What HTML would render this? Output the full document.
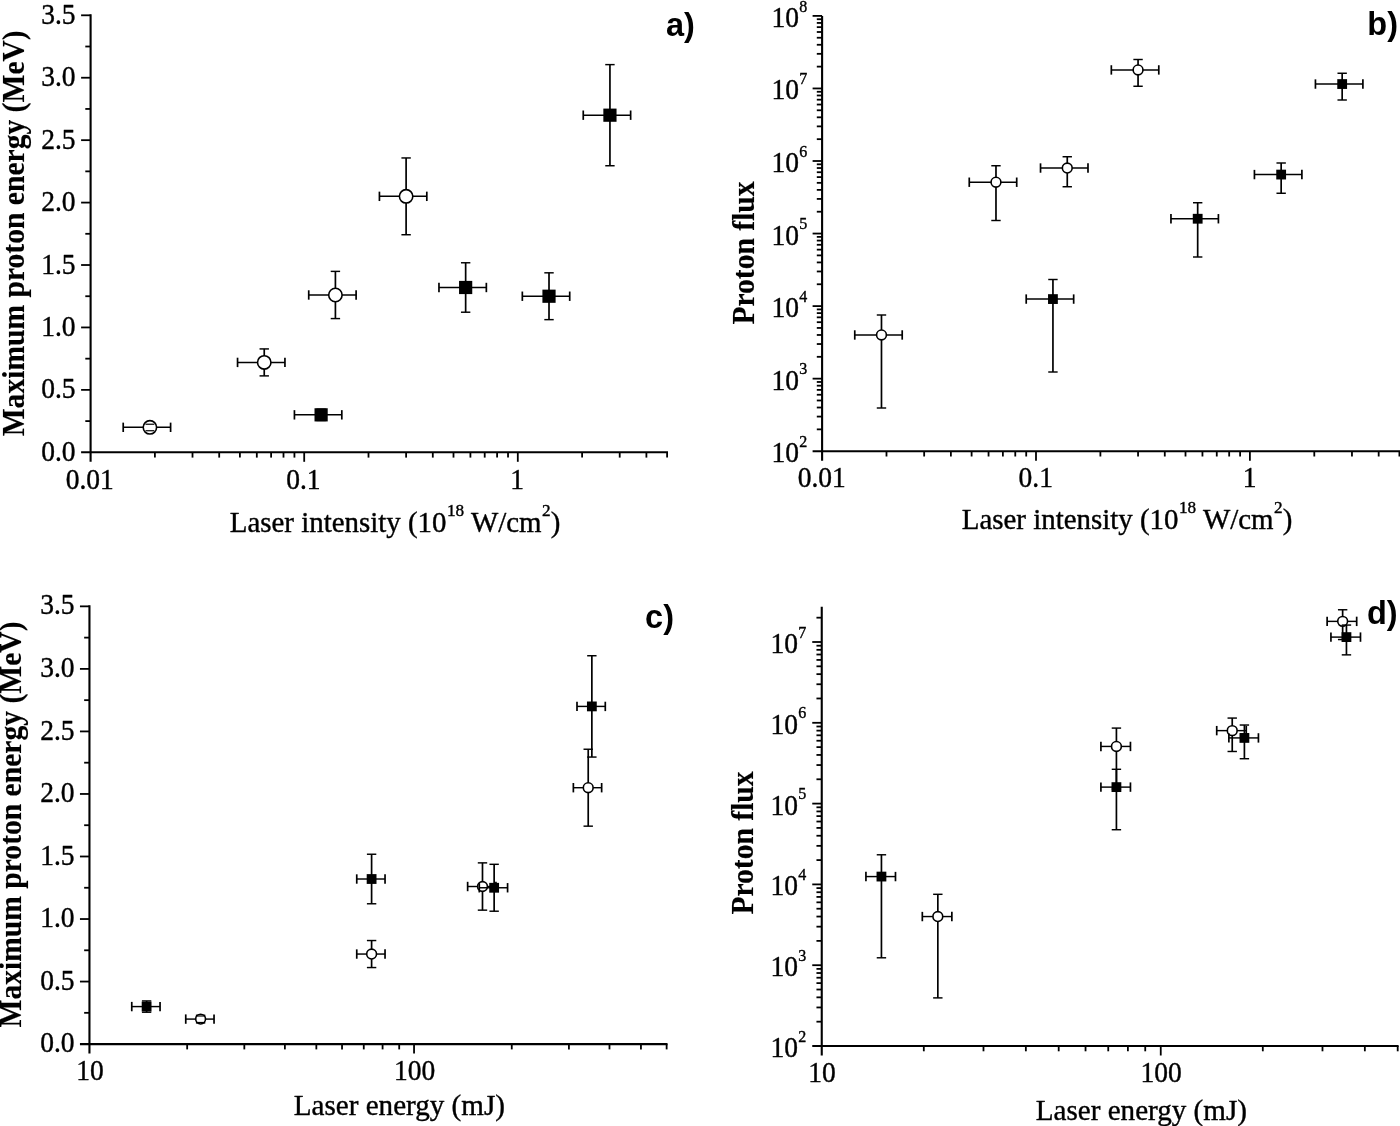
<!DOCTYPE html>
<html lang="en">
<head>
<meta charset="utf-8">
<title>Proton energy and flux versus laser intensity and energy</title>
<style>
html,body{margin:0;padding:0;background:#fff;}
body{width:1400px;height:1126px;overflow:hidden;}
svg{display:block;}
.se{font-family:'Liberation Serif', 'Times New Roman', Times, serif;stroke:#000;stroke-width:0.4px;stroke-linejoin:round;}
.bd{stroke-width:0.15px;}
.sa{font-family:'Liberation Sans', Arial, Helvetica, sans-serif;}
</style>
</head>
<body>
<svg width="1400" height="1126" viewBox="0 0 1400 1126" role="img" aria-label="Four scatter plots of proton energy and proton flux">
<rect width="1400" height="1126" fill="#fff"/>
<g stroke="#000" fill="none" stroke-linecap="butt">
<line x1="90.6" y1="14.25" x2="90.6" y2="461.8" stroke-width="2.1"/>
<line x1="81.1" y1="452.3" x2="668" y2="452.3" stroke-width="2.1"/>
<line x1="154.9" y1="452.3" x2="154.9" y2="457.6" stroke-width="1.8"/>
<line x1="192.51" y1="452.3" x2="192.51" y2="457.6" stroke-width="1.8"/>
<line x1="219.2" y1="452.3" x2="219.2" y2="457.6" stroke-width="1.8"/>
<line x1="239.9" y1="452.3" x2="239.9" y2="457.6" stroke-width="1.8"/>
<line x1="256.81" y1="452.3" x2="256.81" y2="457.6" stroke-width="1.8"/>
<line x1="271.11" y1="452.3" x2="271.11" y2="457.6" stroke-width="1.8"/>
<line x1="283.5" y1="452.3" x2="283.5" y2="457.6" stroke-width="1.8"/>
<line x1="294.43" y1="452.3" x2="294.43" y2="457.6" stroke-width="1.8"/>
<line x1="304.2" y1="452.3" x2="304.2" y2="461.8" stroke-width="1.8"/>
<line x1="368.5" y1="452.3" x2="368.5" y2="457.6" stroke-width="1.8"/>
<line x1="406.11" y1="452.3" x2="406.11" y2="457.6" stroke-width="1.8"/>
<line x1="432.8" y1="452.3" x2="432.8" y2="457.6" stroke-width="1.8"/>
<line x1="453.5" y1="452.3" x2="453.5" y2="457.6" stroke-width="1.8"/>
<line x1="470.41" y1="452.3" x2="470.41" y2="457.6" stroke-width="1.8"/>
<line x1="484.71" y1="452.3" x2="484.71" y2="457.6" stroke-width="1.8"/>
<line x1="497.1" y1="452.3" x2="497.1" y2="457.6" stroke-width="1.8"/>
<line x1="508.03" y1="452.3" x2="508.03" y2="457.6" stroke-width="1.8"/>
<line x1="517.8" y1="452.3" x2="517.8" y2="461.8" stroke-width="1.8"/>
<line x1="582.1" y1="452.3" x2="582.1" y2="457.6" stroke-width="1.8"/>
<line x1="619.71" y1="452.3" x2="619.71" y2="457.6" stroke-width="1.8"/>
<line x1="646.4" y1="452.3" x2="646.4" y2="457.6" stroke-width="1.8"/>
<line x1="667.1" y1="452.3" x2="667.1" y2="457.6" stroke-width="1.8"/>
<line x1="85.3" y1="421.09" x2="90.6" y2="421.09" stroke-width="1.8"/>
<line x1="81.1" y1="389.87" x2="90.6" y2="389.87" stroke-width="1.8"/>
<line x1="85.3" y1="358.66" x2="90.6" y2="358.66" stroke-width="1.8"/>
<line x1="81.1" y1="327.44" x2="90.6" y2="327.44" stroke-width="1.8"/>
<line x1="85.3" y1="296.23" x2="90.6" y2="296.23" stroke-width="1.8"/>
<line x1="81.1" y1="265.01" x2="90.6" y2="265.01" stroke-width="1.8"/>
<line x1="85.3" y1="233.8" x2="90.6" y2="233.8" stroke-width="1.8"/>
<line x1="81.1" y1="202.59" x2="90.6" y2="202.59" stroke-width="1.8"/>
<line x1="85.3" y1="171.37" x2="90.6" y2="171.37" stroke-width="1.8"/>
<line x1="81.1" y1="140.16" x2="90.6" y2="140.16" stroke-width="1.8"/>
<line x1="85.3" y1="108.94" x2="90.6" y2="108.94" stroke-width="1.8"/>
<line x1="81.1" y1="77.73" x2="90.6" y2="77.73" stroke-width="1.8"/>
<line x1="85.3" y1="46.51" x2="90.6" y2="46.51" stroke-width="1.8"/>
<line x1="81.1" y1="15.3" x2="90.6" y2="15.3" stroke-width="1.8"/>
<line x1="149.9" y1="423.58" x2="149.9" y2="431.07" stroke-width="1.7"/>
<line x1="145.2" y1="423.58" x2="154.6" y2="423.58" stroke-width="1.45"/>
<line x1="145.2" y1="431.07" x2="154.6" y2="431.07" stroke-width="1.45"/>
<line x1="123.21" y1="427.33" x2="170.6" y2="427.33" stroke-width="1.45"/>
<line x1="123.21" y1="422.63" x2="123.21" y2="432.03" stroke-width="1.7"/>
<line x1="170.6" y1="422.63" x2="170.6" y2="432.03" stroke-width="1.7"/>
<circle cx="149.9" cy="427.33" r="6.7" fill="#fff" stroke="#000" stroke-width="1.6"/>
<line x1="145.5" y1="424.23" x2="154.3" y2="424.23" stroke-width="1.2"/>
<line x1="145.5" y1="430.73" x2="154.3" y2="430.73" stroke-width="1.2"/>
<line x1="264.24" y1="348.92" x2="264.24" y2="375.89" stroke-width="1.7"/>
<line x1="259.54" y1="348.92" x2="268.94" y2="348.92" stroke-width="1.45"/>
<line x1="259.54" y1="375.89" x2="268.94" y2="375.89" stroke-width="1.45"/>
<line x1="237.55" y1="362.4" x2="284.94" y2="362.4" stroke-width="1.45"/>
<line x1="237.55" y1="357.7" x2="237.55" y2="367.1" stroke-width="1.7"/>
<line x1="284.94" y1="357.7" x2="284.94" y2="367.1" stroke-width="1.7"/>
<circle cx="264.24" cy="362.4" r="6.7" fill="#fff" stroke="#000" stroke-width="1.6"/>
<line x1="335.41" y1="271.38" x2="335.41" y2="318.58" stroke-width="1.7"/>
<line x1="330.71" y1="271.38" x2="340.11" y2="271.38" stroke-width="1.45"/>
<line x1="330.71" y1="318.58" x2="340.11" y2="318.58" stroke-width="1.45"/>
<line x1="308.73" y1="294.98" x2="356.11" y2="294.98" stroke-width="1.45"/>
<line x1="308.73" y1="290.28" x2="308.73" y2="299.68" stroke-width="1.7"/>
<line x1="356.11" y1="290.28" x2="356.11" y2="299.68" stroke-width="1.7"/>
<circle cx="335.41" cy="294.98" r="6.7" fill="#fff" stroke="#000" stroke-width="1.6"/>
<line x1="406.11" y1="157.95" x2="406.11" y2="234.74" stroke-width="1.7"/>
<line x1="401.41" y1="157.95" x2="410.81" y2="157.95" stroke-width="1.45"/>
<line x1="401.41" y1="234.74" x2="410.81" y2="234.74" stroke-width="1.45"/>
<line x1="379.43" y1="196.34" x2="426.81" y2="196.34" stroke-width="1.45"/>
<line x1="379.43" y1="191.64" x2="379.43" y2="201.04" stroke-width="1.7"/>
<line x1="426.81" y1="191.64" x2="426.81" y2="201.04" stroke-width="1.7"/>
<circle cx="406.11" cy="196.34" r="6.7" fill="#fff" stroke="#000" stroke-width="1.6"/>
<line x1="321.11" y1="409.22" x2="321.11" y2="420.46" stroke-width="1.7"/>
<line x1="316.41" y1="409.22" x2="325.81" y2="409.22" stroke-width="1.45"/>
<line x1="316.41" y1="420.46" x2="325.81" y2="420.46" stroke-width="1.45"/>
<line x1="294.43" y1="414.84" x2="341.81" y2="414.84" stroke-width="1.45"/>
<line x1="294.43" y1="410.14" x2="294.43" y2="419.54" stroke-width="1.7"/>
<line x1="341.81" y1="410.14" x2="341.81" y2="419.54" stroke-width="1.7"/>
<rect x="314.51" y="408.24" width="13.2" height="13.2" fill="#000" stroke="none"/>
<line x1="465.65" y1="262.77" x2="465.65" y2="312.21" stroke-width="1.7"/>
<line x1="460.95" y1="262.77" x2="470.35" y2="262.77" stroke-width="1.45"/>
<line x1="460.95" y1="312.21" x2="470.35" y2="312.21" stroke-width="1.45"/>
<line x1="438.97" y1="287.49" x2="486.35" y2="287.49" stroke-width="1.45"/>
<line x1="438.97" y1="282.79" x2="438.97" y2="292.19" stroke-width="1.7"/>
<line x1="486.35" y1="282.79" x2="486.35" y2="292.19" stroke-width="1.7"/>
<rect x="459.05" y="280.89" width="13.2" height="13.2" fill="#000" stroke="none"/>
<line x1="549.01" y1="272.82" x2="549.01" y2="319.64" stroke-width="1.7"/>
<line x1="544.31" y1="272.82" x2="553.71" y2="272.82" stroke-width="1.45"/>
<line x1="544.31" y1="319.64" x2="553.71" y2="319.64" stroke-width="1.45"/>
<line x1="522.33" y1="296.23" x2="569.71" y2="296.23" stroke-width="1.45"/>
<line x1="522.33" y1="291.53" x2="522.33" y2="300.93" stroke-width="1.7"/>
<line x1="569.71" y1="291.53" x2="569.71" y2="300.93" stroke-width="1.7"/>
<rect x="542.41" y="289.63" width="13.2" height="13.2" fill="#000" stroke="none"/>
<line x1="609.94" y1="64.62" x2="609.94" y2="165.75" stroke-width="1.7"/>
<line x1="605.24" y1="64.62" x2="614.64" y2="64.62" stroke-width="1.45"/>
<line x1="605.24" y1="165.75" x2="614.64" y2="165.75" stroke-width="1.45"/>
<line x1="583.25" y1="115.19" x2="630.64" y2="115.19" stroke-width="1.45"/>
<line x1="583.25" y1="110.49" x2="583.25" y2="119.89" stroke-width="1.7"/>
<line x1="630.64" y1="110.49" x2="630.64" y2="119.89" stroke-width="1.7"/>
<rect x="603.34" y="108.59" width="13.2" height="13.2" fill="#000" stroke="none"/>
<line x1="822.1" y1="15.9" x2="822.1" y2="460.7" stroke-width="2.1"/>
<line x1="812.6" y1="451.2" x2="1400.31" y2="451.2" stroke-width="2.1"/>
<line x1="886.49" y1="451.2" x2="886.49" y2="456.5" stroke-width="1.8"/>
<line x1="924.16" y1="451.2" x2="924.16" y2="456.5" stroke-width="1.8"/>
<line x1="950.88" y1="451.2" x2="950.88" y2="456.5" stroke-width="1.8"/>
<line x1="971.61" y1="451.2" x2="971.61" y2="456.5" stroke-width="1.8"/>
<line x1="988.55" y1="451.2" x2="988.55" y2="456.5" stroke-width="1.8"/>
<line x1="1002.87" y1="451.2" x2="1002.87" y2="456.5" stroke-width="1.8"/>
<line x1="1015.27" y1="451.2" x2="1015.27" y2="456.5" stroke-width="1.8"/>
<line x1="1026.21" y1="451.2" x2="1026.21" y2="456.5" stroke-width="1.8"/>
<line x1="1036" y1="451.2" x2="1036" y2="460.7" stroke-width="1.8"/>
<line x1="1100.39" y1="451.2" x2="1100.39" y2="456.5" stroke-width="1.8"/>
<line x1="1138.06" y1="451.2" x2="1138.06" y2="456.5" stroke-width="1.8"/>
<line x1="1164.78" y1="451.2" x2="1164.78" y2="456.5" stroke-width="1.8"/>
<line x1="1185.51" y1="451.2" x2="1185.51" y2="456.5" stroke-width="1.8"/>
<line x1="1202.45" y1="451.2" x2="1202.45" y2="456.5" stroke-width="1.8"/>
<line x1="1216.77" y1="451.2" x2="1216.77" y2="456.5" stroke-width="1.8"/>
<line x1="1229.17" y1="451.2" x2="1229.17" y2="456.5" stroke-width="1.8"/>
<line x1="1240.11" y1="451.2" x2="1240.11" y2="456.5" stroke-width="1.8"/>
<line x1="1249.9" y1="451.2" x2="1249.9" y2="460.7" stroke-width="1.8"/>
<line x1="1314.29" y1="451.2" x2="1314.29" y2="456.5" stroke-width="1.8"/>
<line x1="1351.96" y1="451.2" x2="1351.96" y2="456.5" stroke-width="1.8"/>
<line x1="1378.68" y1="451.2" x2="1378.68" y2="456.5" stroke-width="1.8"/>
<line x1="1399.41" y1="451.2" x2="1399.41" y2="456.5" stroke-width="1.8"/>
<line x1="816.8" y1="429.36" x2="822.1" y2="429.36" stroke-width="1.8"/>
<line x1="816.8" y1="416.58" x2="822.1" y2="416.58" stroke-width="1.8"/>
<line x1="816.8" y1="407.52" x2="822.1" y2="407.52" stroke-width="1.8"/>
<line x1="816.8" y1="400.49" x2="822.1" y2="400.49" stroke-width="1.8"/>
<line x1="816.8" y1="394.75" x2="822.1" y2="394.75" stroke-width="1.8"/>
<line x1="816.8" y1="389.89" x2="822.1" y2="389.89" stroke-width="1.8"/>
<line x1="816.8" y1="385.68" x2="822.1" y2="385.68" stroke-width="1.8"/>
<line x1="816.8" y1="381.97" x2="822.1" y2="381.97" stroke-width="1.8"/>
<line x1="812.6" y1="378.65" x2="822.1" y2="378.65" stroke-width="1.8"/>
<line x1="816.8" y1="356.81" x2="822.1" y2="356.81" stroke-width="1.8"/>
<line x1="816.8" y1="344.03" x2="822.1" y2="344.03" stroke-width="1.8"/>
<line x1="816.8" y1="334.97" x2="822.1" y2="334.97" stroke-width="1.8"/>
<line x1="816.8" y1="327.94" x2="822.1" y2="327.94" stroke-width="1.8"/>
<line x1="816.8" y1="322.2" x2="822.1" y2="322.2" stroke-width="1.8"/>
<line x1="816.8" y1="317.34" x2="822.1" y2="317.34" stroke-width="1.8"/>
<line x1="816.8" y1="313.13" x2="822.1" y2="313.13" stroke-width="1.8"/>
<line x1="816.8" y1="309.42" x2="822.1" y2="309.42" stroke-width="1.8"/>
<line x1="812.6" y1="306.1" x2="822.1" y2="306.1" stroke-width="1.8"/>
<line x1="816.8" y1="284.26" x2="822.1" y2="284.26" stroke-width="1.8"/>
<line x1="816.8" y1="271.48" x2="822.1" y2="271.48" stroke-width="1.8"/>
<line x1="816.8" y1="262.42" x2="822.1" y2="262.42" stroke-width="1.8"/>
<line x1="816.8" y1="255.39" x2="822.1" y2="255.39" stroke-width="1.8"/>
<line x1="816.8" y1="249.65" x2="822.1" y2="249.65" stroke-width="1.8"/>
<line x1="816.8" y1="244.79" x2="822.1" y2="244.79" stroke-width="1.8"/>
<line x1="816.8" y1="240.58" x2="822.1" y2="240.58" stroke-width="1.8"/>
<line x1="816.8" y1="236.87" x2="822.1" y2="236.87" stroke-width="1.8"/>
<line x1="812.6" y1="233.55" x2="822.1" y2="233.55" stroke-width="1.8"/>
<line x1="816.8" y1="211.71" x2="822.1" y2="211.71" stroke-width="1.8"/>
<line x1="816.8" y1="198.93" x2="822.1" y2="198.93" stroke-width="1.8"/>
<line x1="816.8" y1="189.87" x2="822.1" y2="189.87" stroke-width="1.8"/>
<line x1="816.8" y1="182.84" x2="822.1" y2="182.84" stroke-width="1.8"/>
<line x1="816.8" y1="177.1" x2="822.1" y2="177.1" stroke-width="1.8"/>
<line x1="816.8" y1="172.24" x2="822.1" y2="172.24" stroke-width="1.8"/>
<line x1="816.8" y1="168.03" x2="822.1" y2="168.03" stroke-width="1.8"/>
<line x1="816.8" y1="164.32" x2="822.1" y2="164.32" stroke-width="1.8"/>
<line x1="812.6" y1="161" x2="822.1" y2="161" stroke-width="1.8"/>
<line x1="816.8" y1="139.16" x2="822.1" y2="139.16" stroke-width="1.8"/>
<line x1="816.8" y1="126.38" x2="822.1" y2="126.38" stroke-width="1.8"/>
<line x1="816.8" y1="117.32" x2="822.1" y2="117.32" stroke-width="1.8"/>
<line x1="816.8" y1="110.29" x2="822.1" y2="110.29" stroke-width="1.8"/>
<line x1="816.8" y1="104.55" x2="822.1" y2="104.55" stroke-width="1.8"/>
<line x1="816.8" y1="99.69" x2="822.1" y2="99.69" stroke-width="1.8"/>
<line x1="816.8" y1="95.48" x2="822.1" y2="95.48" stroke-width="1.8"/>
<line x1="816.8" y1="91.77" x2="822.1" y2="91.77" stroke-width="1.8"/>
<line x1="812.6" y1="88.45" x2="822.1" y2="88.45" stroke-width="1.8"/>
<line x1="816.8" y1="66.61" x2="822.1" y2="66.61" stroke-width="1.8"/>
<line x1="816.8" y1="53.83" x2="822.1" y2="53.83" stroke-width="1.8"/>
<line x1="816.8" y1="44.77" x2="822.1" y2="44.77" stroke-width="1.8"/>
<line x1="816.8" y1="37.74" x2="822.1" y2="37.74" stroke-width="1.8"/>
<line x1="816.8" y1="32" x2="822.1" y2="32" stroke-width="1.8"/>
<line x1="816.8" y1="27.14" x2="822.1" y2="27.14" stroke-width="1.8"/>
<line x1="816.8" y1="22.93" x2="822.1" y2="22.93" stroke-width="1.8"/>
<line x1="816.8" y1="19.22" x2="822.1" y2="19.22" stroke-width="1.8"/>
<line x1="812.6" y1="15.9" x2="822.1" y2="15.9" stroke-width="1.8"/>
<line x1="881.48" y1="315" x2="881.48" y2="408" stroke-width="1.7"/>
<line x1="876.78" y1="315" x2="886.18" y2="315" stroke-width="1.45"/>
<line x1="876.78" y1="408" x2="886.18" y2="408" stroke-width="1.45"/>
<line x1="854.76" y1="334.97" x2="902.21" y2="334.97" stroke-width="1.45"/>
<line x1="854.76" y1="330.27" x2="854.76" y2="339.67" stroke-width="1.7"/>
<line x1="902.21" y1="330.27" x2="902.21" y2="339.67" stroke-width="1.7"/>
<circle cx="881.48" cy="334.97" r="4.9" fill="#fff" stroke="#000" stroke-width="1.6"/>
<line x1="995.98" y1="165.75" x2="995.98" y2="220.5" stroke-width="1.7"/>
<line x1="991.28" y1="165.75" x2="1000.68" y2="165.75" stroke-width="1.45"/>
<line x1="991.28" y1="220.5" x2="1000.68" y2="220.5" stroke-width="1.45"/>
<line x1="969.26" y1="182.22" x2="1016.71" y2="182.22" stroke-width="1.45"/>
<line x1="969.26" y1="177.52" x2="969.26" y2="186.92" stroke-width="1.7"/>
<line x1="1016.71" y1="177.52" x2="1016.71" y2="186.92" stroke-width="1.7"/>
<circle cx="995.98" cy="182.22" r="4.9" fill="#fff" stroke="#000" stroke-width="1.6"/>
<line x1="1067.26" y1="156.75" x2="1067.26" y2="186.75" stroke-width="1.7"/>
<line x1="1062.56" y1="156.75" x2="1071.96" y2="156.75" stroke-width="1.45"/>
<line x1="1062.56" y1="186.75" x2="1071.96" y2="186.75" stroke-width="1.45"/>
<line x1="1040.53" y1="168.03" x2="1087.99" y2="168.03" stroke-width="1.45"/>
<line x1="1040.53" y1="163.33" x2="1040.53" y2="172.73" stroke-width="1.7"/>
<line x1="1087.99" y1="163.33" x2="1087.99" y2="172.73" stroke-width="1.7"/>
<circle cx="1067.26" cy="168.03" r="4.9" fill="#fff" stroke="#000" stroke-width="1.6"/>
<line x1="1138.06" y1="59.5" x2="1138.06" y2="86.25" stroke-width="1.7"/>
<line x1="1133.36" y1="59.5" x2="1142.76" y2="59.5" stroke-width="1.45"/>
<line x1="1133.36" y1="86.25" x2="1142.76" y2="86.25" stroke-width="1.45"/>
<line x1="1111.33" y1="69.93" x2="1158.79" y2="69.93" stroke-width="1.45"/>
<line x1="1111.33" y1="65.23" x2="1111.33" y2="74.63" stroke-width="1.7"/>
<line x1="1158.79" y1="65.23" x2="1158.79" y2="74.63" stroke-width="1.7"/>
<circle cx="1138.06" cy="69.93" r="4.9" fill="#fff" stroke="#000" stroke-width="1.6"/>
<line x1="1052.94" y1="279.5" x2="1052.94" y2="372" stroke-width="1.7"/>
<line x1="1048.24" y1="279.5" x2="1057.64" y2="279.5" stroke-width="1.45"/>
<line x1="1048.24" y1="372" x2="1057.64" y2="372" stroke-width="1.45"/>
<line x1="1026.21" y1="299.07" x2="1073.67" y2="299.07" stroke-width="1.45"/>
<line x1="1026.21" y1="294.37" x2="1026.21" y2="303.77" stroke-width="1.7"/>
<line x1="1073.67" y1="294.37" x2="1073.67" y2="303.77" stroke-width="1.7"/>
<rect x="1048.04" y="294.17" width="9.8" height="9.8" fill="#000" stroke="none"/>
<line x1="1197.68" y1="202.75" x2="1197.68" y2="257" stroke-width="1.7"/>
<line x1="1192.98" y1="202.75" x2="1202.38" y2="202.75" stroke-width="1.45"/>
<line x1="1192.98" y1="257" x2="1202.38" y2="257" stroke-width="1.45"/>
<line x1="1170.96" y1="218.74" x2="1218.41" y2="218.74" stroke-width="1.45"/>
<line x1="1170.96" y1="214.04" x2="1170.96" y2="223.44" stroke-width="1.7"/>
<line x1="1218.41" y1="214.04" x2="1218.41" y2="223.44" stroke-width="1.7"/>
<rect x="1192.78" y="213.84" width="9.8" height="9.8" fill="#000" stroke="none"/>
<line x1="1281.16" y1="163" x2="1281.16" y2="193.25" stroke-width="1.7"/>
<line x1="1276.46" y1="163" x2="1285.86" y2="163" stroke-width="1.45"/>
<line x1="1276.46" y1="193.25" x2="1285.86" y2="193.25" stroke-width="1.45"/>
<line x1="1254.43" y1="174.57" x2="1301.89" y2="174.57" stroke-width="1.45"/>
<line x1="1254.43" y1="169.87" x2="1254.43" y2="179.27" stroke-width="1.7"/>
<line x1="1301.89" y1="169.87" x2="1301.89" y2="179.27" stroke-width="1.7"/>
<rect x="1276.26" y="169.67" width="9.8" height="9.8" fill="#000" stroke="none"/>
<line x1="1342.17" y1="73.25" x2="1342.17" y2="100" stroke-width="1.7"/>
<line x1="1337.47" y1="73.25" x2="1346.87" y2="73.25" stroke-width="1.45"/>
<line x1="1337.47" y1="100" x2="1346.87" y2="100" stroke-width="1.45"/>
<line x1="1315.44" y1="84.05" x2="1362.9" y2="84.05" stroke-width="1.45"/>
<line x1="1315.44" y1="79.35" x2="1315.44" y2="88.75" stroke-width="1.7"/>
<line x1="1362.9" y1="79.35" x2="1362.9" y2="88.75" stroke-width="1.7"/>
<rect x="1337.27" y="79.15" width="9.8" height="9.8" fill="#000" stroke="none"/>
<line x1="89.45" y1="605.3" x2="89.45" y2="1053.6" stroke-width="2.1"/>
<line x1="79.95" y1="1044.1" x2="667.54" y2="1044.1" stroke-width="2.1"/>
<line x1="187.16" y1="1044.1" x2="187.16" y2="1049.4" stroke-width="1.8"/>
<line x1="244.32" y1="1044.1" x2="244.32" y2="1049.4" stroke-width="1.8"/>
<line x1="284.88" y1="1044.1" x2="284.88" y2="1049.4" stroke-width="1.8"/>
<line x1="316.34" y1="1044.1" x2="316.34" y2="1049.4" stroke-width="1.8"/>
<line x1="342.04" y1="1044.1" x2="342.04" y2="1049.4" stroke-width="1.8"/>
<line x1="363.77" y1="1044.1" x2="363.77" y2="1049.4" stroke-width="1.8"/>
<line x1="382.59" y1="1044.1" x2="382.59" y2="1049.4" stroke-width="1.8"/>
<line x1="399.2" y1="1044.1" x2="399.2" y2="1049.4" stroke-width="1.8"/>
<line x1="414.05" y1="1044.1" x2="414.05" y2="1053.6" stroke-width="1.8"/>
<line x1="511.76" y1="1044.1" x2="511.76" y2="1049.4" stroke-width="1.8"/>
<line x1="568.92" y1="1044.1" x2="568.92" y2="1049.4" stroke-width="1.8"/>
<line x1="609.48" y1="1044.1" x2="609.48" y2="1049.4" stroke-width="1.8"/>
<line x1="640.94" y1="1044.1" x2="640.94" y2="1049.4" stroke-width="1.8"/>
<line x1="666.64" y1="1044.1" x2="666.64" y2="1049.4" stroke-width="1.8"/>
<line x1="84.15" y1="1012.83" x2="89.45" y2="1012.83" stroke-width="1.8"/>
<line x1="79.95" y1="981.56" x2="89.45" y2="981.56" stroke-width="1.8"/>
<line x1="84.15" y1="950.3" x2="89.45" y2="950.3" stroke-width="1.8"/>
<line x1="79.95" y1="919.03" x2="89.45" y2="919.03" stroke-width="1.8"/>
<line x1="84.15" y1="887.76" x2="89.45" y2="887.76" stroke-width="1.8"/>
<line x1="79.95" y1="856.49" x2="89.45" y2="856.49" stroke-width="1.8"/>
<line x1="84.15" y1="825.22" x2="89.45" y2="825.22" stroke-width="1.8"/>
<line x1="79.95" y1="793.96" x2="89.45" y2="793.96" stroke-width="1.8"/>
<line x1="84.15" y1="762.69" x2="89.45" y2="762.69" stroke-width="1.8"/>
<line x1="79.95" y1="731.42" x2="89.45" y2="731.42" stroke-width="1.8"/>
<line x1="84.15" y1="700.15" x2="89.45" y2="700.15" stroke-width="1.8"/>
<line x1="79.95" y1="668.89" x2="89.45" y2="668.89" stroke-width="1.8"/>
<line x1="84.15" y1="637.62" x2="89.45" y2="637.62" stroke-width="1.8"/>
<line x1="79.95" y1="606.35" x2="89.45" y2="606.35" stroke-width="1.8"/>
<line x1="146.61" y1="1000.95" x2="146.61" y2="1012.21" stroke-width="1.7"/>
<line x1="141.91" y1="1000.95" x2="151.31" y2="1000.95" stroke-width="1.45"/>
<line x1="141.91" y1="1012.21" x2="151.31" y2="1012.21" stroke-width="1.45"/>
<line x1="131.76" y1="1006.58" x2="160.05" y2="1006.58" stroke-width="1.45"/>
<line x1="131.76" y1="1001.88" x2="131.76" y2="1011.28" stroke-width="1.7"/>
<line x1="160.05" y1="1001.88" x2="160.05" y2="1011.28" stroke-width="1.7"/>
<rect x="141.71" y="1001.68" width="9.8" height="9.8" fill="#000" stroke="none"/>
<line x1="200.6" y1="1015.33" x2="200.6" y2="1022.84" stroke-width="1.7"/>
<line x1="195.9" y1="1015.33" x2="205.3" y2="1015.33" stroke-width="1.45"/>
<line x1="195.9" y1="1022.84" x2="205.3" y2="1022.84" stroke-width="1.45"/>
<line x1="185.75" y1="1019.09" x2="214.04" y2="1019.09" stroke-width="1.45"/>
<line x1="185.75" y1="1014.39" x2="185.75" y2="1023.79" stroke-width="1.7"/>
<line x1="214.04" y1="1014.39" x2="214.04" y2="1023.79" stroke-width="1.7"/>
<circle cx="200.6" cy="1019.09" r="4.9" fill="#fff" stroke="#000" stroke-width="1.6"/>
<line x1="196.2" y1="1015.99" x2="205" y2="1015.99" stroke-width="1.2"/>
<line x1="196.2" y1="1022.49" x2="205" y2="1022.49" stroke-width="1.2"/>
<line x1="371.6" y1="854.24" x2="371.6" y2="903.77" stroke-width="1.7"/>
<line x1="366.9" y1="854.24" x2="376.3" y2="854.24" stroke-width="1.45"/>
<line x1="366.9" y1="903.77" x2="376.3" y2="903.77" stroke-width="1.45"/>
<line x1="356.75" y1="879.01" x2="385.04" y2="879.01" stroke-width="1.45"/>
<line x1="356.75" y1="874.31" x2="356.75" y2="883.71" stroke-width="1.7"/>
<line x1="385.04" y1="874.31" x2="385.04" y2="883.71" stroke-width="1.7"/>
<rect x="366.7" y="874.11" width="9.8" height="9.8" fill="#000" stroke="none"/>
<line x1="371.6" y1="940.54" x2="371.6" y2="967.56" stroke-width="1.7"/>
<line x1="366.9" y1="940.54" x2="376.3" y2="940.54" stroke-width="1.45"/>
<line x1="366.9" y1="967.56" x2="376.3" y2="967.56" stroke-width="1.45"/>
<line x1="356.75" y1="954.05" x2="385.04" y2="954.05" stroke-width="1.45"/>
<line x1="356.75" y1="949.35" x2="356.75" y2="958.75" stroke-width="1.7"/>
<line x1="385.04" y1="949.35" x2="385.04" y2="958.75" stroke-width="1.7"/>
<circle cx="371.6" cy="954.05" r="4.9" fill="#fff" stroke="#000" stroke-width="1.6"/>
<line x1="482.49" y1="862.87" x2="482.49" y2="910.15" stroke-width="1.7"/>
<line x1="477.79" y1="862.87" x2="487.19" y2="862.87" stroke-width="1.45"/>
<line x1="477.79" y1="910.15" x2="487.19" y2="910.15" stroke-width="1.45"/>
<line x1="467.64" y1="886.51" x2="495.93" y2="886.51" stroke-width="1.45"/>
<line x1="467.64" y1="881.81" x2="467.64" y2="891.21" stroke-width="1.7"/>
<line x1="495.93" y1="881.81" x2="495.93" y2="891.21" stroke-width="1.7"/>
<circle cx="482.49" cy="886.51" r="4.9" fill="#fff" stroke="#000" stroke-width="1.6"/>
<line x1="494.14" y1="864.31" x2="494.14" y2="911.21" stroke-width="1.7"/>
<line x1="489.44" y1="864.31" x2="498.84" y2="864.31" stroke-width="1.45"/>
<line x1="489.44" y1="911.21" x2="498.84" y2="911.21" stroke-width="1.45"/>
<line x1="479.29" y1="887.76" x2="507.58" y2="887.76" stroke-width="1.45"/>
<line x1="479.29" y1="883.06" x2="479.29" y2="892.46" stroke-width="1.7"/>
<line x1="507.58" y1="883.06" x2="507.58" y2="892.46" stroke-width="1.7"/>
<rect x="489.24" y="882.86" width="9.8" height="9.8" fill="#000" stroke="none"/>
<line x1="591.86" y1="655.75" x2="591.86" y2="757.06" stroke-width="1.7"/>
<line x1="587.16" y1="655.75" x2="596.56" y2="655.75" stroke-width="1.45"/>
<line x1="587.16" y1="757.06" x2="596.56" y2="757.06" stroke-width="1.45"/>
<line x1="577" y1="706.41" x2="605.29" y2="706.41" stroke-width="1.45"/>
<line x1="577" y1="701.71" x2="577" y2="711.11" stroke-width="1.7"/>
<line x1="605.29" y1="701.71" x2="605.29" y2="711.11" stroke-width="1.7"/>
<rect x="586.96" y="701.51" width="9.8" height="9.8" fill="#000" stroke="none"/>
<line x1="588.22" y1="749.24" x2="588.22" y2="826.16" stroke-width="1.7"/>
<line x1="583.52" y1="749.24" x2="592.92" y2="749.24" stroke-width="1.45"/>
<line x1="583.52" y1="826.16" x2="592.92" y2="826.16" stroke-width="1.45"/>
<line x1="573.36" y1="787.7" x2="601.65" y2="787.7" stroke-width="1.45"/>
<line x1="573.36" y1="783" x2="573.36" y2="792.4" stroke-width="1.7"/>
<line x1="601.65" y1="783" x2="601.65" y2="792.4" stroke-width="1.7"/>
<circle cx="588.22" cy="787.7" r="4.9" fill="#fff" stroke="#000" stroke-width="1.6"/>
<line x1="821.75" y1="606.75" x2="821.75" y2="1055.5" stroke-width="2.1"/>
<line x1="812.25" y1="1046" x2="1398.6" y2="1046" stroke-width="2.1"/>
<line x1="923.8" y1="1046" x2="923.8" y2="1051.3" stroke-width="1.8"/>
<line x1="983.49" y1="1046" x2="983.49" y2="1051.3" stroke-width="1.8"/>
<line x1="1025.85" y1="1046" x2="1025.85" y2="1051.3" stroke-width="1.8"/>
<line x1="1058.7" y1="1046" x2="1058.7" y2="1051.3" stroke-width="1.8"/>
<line x1="1085.54" y1="1046" x2="1085.54" y2="1051.3" stroke-width="1.8"/>
<line x1="1108.24" y1="1046" x2="1108.24" y2="1051.3" stroke-width="1.8"/>
<line x1="1127.9" y1="1046" x2="1127.9" y2="1051.3" stroke-width="1.8"/>
<line x1="1145.24" y1="1046" x2="1145.24" y2="1051.3" stroke-width="1.8"/>
<line x1="1160.75" y1="1046" x2="1160.75" y2="1055.5" stroke-width="1.8"/>
<line x1="1262.8" y1="1046" x2="1262.8" y2="1051.3" stroke-width="1.8"/>
<line x1="1322.49" y1="1046" x2="1322.49" y2="1051.3" stroke-width="1.8"/>
<line x1="1364.85" y1="1046" x2="1364.85" y2="1051.3" stroke-width="1.8"/>
<line x1="1397.7" y1="1046" x2="1397.7" y2="1051.3" stroke-width="1.8"/>
<line x1="816.45" y1="1021.68" x2="821.75" y2="1021.68" stroke-width="1.8"/>
<line x1="816.45" y1="1007.45" x2="821.75" y2="1007.45" stroke-width="1.8"/>
<line x1="816.45" y1="997.35" x2="821.75" y2="997.35" stroke-width="1.8"/>
<line x1="816.45" y1="989.52" x2="821.75" y2="989.52" stroke-width="1.8"/>
<line x1="816.45" y1="983.13" x2="821.75" y2="983.13" stroke-width="1.8"/>
<line x1="816.45" y1="977.72" x2="821.75" y2="977.72" stroke-width="1.8"/>
<line x1="816.45" y1="973.03" x2="821.75" y2="973.03" stroke-width="1.8"/>
<line x1="816.45" y1="968.9" x2="821.75" y2="968.9" stroke-width="1.8"/>
<line x1="812.25" y1="965.2" x2="821.75" y2="965.2" stroke-width="1.8"/>
<line x1="816.45" y1="940.88" x2="821.75" y2="940.88" stroke-width="1.8"/>
<line x1="816.45" y1="926.65" x2="821.75" y2="926.65" stroke-width="1.8"/>
<line x1="816.45" y1="916.55" x2="821.75" y2="916.55" stroke-width="1.8"/>
<line x1="816.45" y1="908.72" x2="821.75" y2="908.72" stroke-width="1.8"/>
<line x1="816.45" y1="902.33" x2="821.75" y2="902.33" stroke-width="1.8"/>
<line x1="816.45" y1="896.92" x2="821.75" y2="896.92" stroke-width="1.8"/>
<line x1="816.45" y1="892.23" x2="821.75" y2="892.23" stroke-width="1.8"/>
<line x1="816.45" y1="888.1" x2="821.75" y2="888.1" stroke-width="1.8"/>
<line x1="812.25" y1="884.4" x2="821.75" y2="884.4" stroke-width="1.8"/>
<line x1="816.45" y1="860.08" x2="821.75" y2="860.08" stroke-width="1.8"/>
<line x1="816.45" y1="845.85" x2="821.75" y2="845.85" stroke-width="1.8"/>
<line x1="816.45" y1="835.75" x2="821.75" y2="835.75" stroke-width="1.8"/>
<line x1="816.45" y1="827.92" x2="821.75" y2="827.92" stroke-width="1.8"/>
<line x1="816.45" y1="821.53" x2="821.75" y2="821.53" stroke-width="1.8"/>
<line x1="816.45" y1="816.12" x2="821.75" y2="816.12" stroke-width="1.8"/>
<line x1="816.45" y1="811.43" x2="821.75" y2="811.43" stroke-width="1.8"/>
<line x1="816.45" y1="807.3" x2="821.75" y2="807.3" stroke-width="1.8"/>
<line x1="812.25" y1="803.6" x2="821.75" y2="803.6" stroke-width="1.8"/>
<line x1="816.45" y1="779.28" x2="821.75" y2="779.28" stroke-width="1.8"/>
<line x1="816.45" y1="765.05" x2="821.75" y2="765.05" stroke-width="1.8"/>
<line x1="816.45" y1="754.95" x2="821.75" y2="754.95" stroke-width="1.8"/>
<line x1="816.45" y1="747.12" x2="821.75" y2="747.12" stroke-width="1.8"/>
<line x1="816.45" y1="740.73" x2="821.75" y2="740.73" stroke-width="1.8"/>
<line x1="816.45" y1="735.32" x2="821.75" y2="735.32" stroke-width="1.8"/>
<line x1="816.45" y1="730.63" x2="821.75" y2="730.63" stroke-width="1.8"/>
<line x1="816.45" y1="726.5" x2="821.75" y2="726.5" stroke-width="1.8"/>
<line x1="812.25" y1="722.8" x2="821.75" y2="722.8" stroke-width="1.8"/>
<line x1="816.45" y1="698.48" x2="821.75" y2="698.48" stroke-width="1.8"/>
<line x1="816.45" y1="684.25" x2="821.75" y2="684.25" stroke-width="1.8"/>
<line x1="816.45" y1="674.15" x2="821.75" y2="674.15" stroke-width="1.8"/>
<line x1="816.45" y1="666.32" x2="821.75" y2="666.32" stroke-width="1.8"/>
<line x1="816.45" y1="659.93" x2="821.75" y2="659.93" stroke-width="1.8"/>
<line x1="816.45" y1="654.52" x2="821.75" y2="654.52" stroke-width="1.8"/>
<line x1="816.45" y1="649.83" x2="821.75" y2="649.83" stroke-width="1.8"/>
<line x1="816.45" y1="645.7" x2="821.75" y2="645.7" stroke-width="1.8"/>
<line x1="812.25" y1="642" x2="821.75" y2="642" stroke-width="1.8"/>
<line x1="816.45" y1="617.68" x2="821.75" y2="617.68" stroke-width="1.8"/>
<line x1="881.44" y1="854.78" x2="881.44" y2="957.79" stroke-width="1.7"/>
<line x1="876.74" y1="854.78" x2="886.14" y2="854.78" stroke-width="1.45"/>
<line x1="876.74" y1="957.79" x2="886.14" y2="957.79" stroke-width="1.45"/>
<line x1="865.93" y1="876.57" x2="895.48" y2="876.57" stroke-width="1.45"/>
<line x1="865.93" y1="871.87" x2="865.93" y2="881.27" stroke-width="1.7"/>
<line x1="895.48" y1="871.87" x2="895.48" y2="881.27" stroke-width="1.7"/>
<rect x="876.54" y="871.67" width="9.8" height="9.8" fill="#000" stroke="none"/>
<line x1="937.83" y1="894.31" x2="937.83" y2="997.89" stroke-width="1.7"/>
<line x1="933.13" y1="894.31" x2="942.53" y2="894.31" stroke-width="1.45"/>
<line x1="933.13" y1="997.89" x2="942.53" y2="997.89" stroke-width="1.45"/>
<line x1="922.32" y1="916.55" x2="951.86" y2="916.55" stroke-width="1.45"/>
<line x1="922.32" y1="911.85" x2="922.32" y2="921.25" stroke-width="1.7"/>
<line x1="951.86" y1="911.85" x2="951.86" y2="921.25" stroke-width="1.7"/>
<circle cx="937.83" cy="916.55" r="4.9" fill="#fff" stroke="#000" stroke-width="1.6"/>
<line x1="1116.42" y1="728.09" x2="1116.42" y2="789.07" stroke-width="1.7"/>
<line x1="1111.72" y1="728.09" x2="1121.12" y2="728.09" stroke-width="1.45"/>
<line x1="1111.72" y1="789.07" x2="1121.12" y2="789.07" stroke-width="1.45"/>
<line x1="1100.91" y1="746.43" x2="1130.45" y2="746.43" stroke-width="1.45"/>
<line x1="1100.91" y1="741.73" x2="1100.91" y2="751.13" stroke-width="1.7"/>
<line x1="1130.45" y1="741.73" x2="1130.45" y2="751.13" stroke-width="1.7"/>
<circle cx="1116.42" cy="746.43" r="4.9" fill="#fff" stroke="#000" stroke-width="1.6"/>
<line x1="1116.42" y1="769.3" x2="1116.42" y2="829.72" stroke-width="1.7"/>
<line x1="1111.72" y1="769.3" x2="1121.12" y2="769.3" stroke-width="1.45"/>
<line x1="1111.72" y1="829.72" x2="1121.12" y2="829.72" stroke-width="1.45"/>
<line x1="1100.91" y1="787.11" x2="1130.45" y2="787.11" stroke-width="1.45"/>
<line x1="1100.91" y1="782.41" x2="1100.91" y2="791.81" stroke-width="1.7"/>
<line x1="1130.45" y1="782.41" x2="1130.45" y2="791.81" stroke-width="1.7"/>
<rect x="1111.52" y="782.21" width="9.8" height="9.8" fill="#000" stroke="none"/>
<line x1="1232.23" y1="718.07" x2="1232.23" y2="751.48" stroke-width="1.7"/>
<line x1="1227.53" y1="718.07" x2="1236.93" y2="718.07" stroke-width="1.45"/>
<line x1="1227.53" y1="751.48" x2="1236.93" y2="751.48" stroke-width="1.45"/>
<line x1="1216.72" y1="730.63" x2="1246.26" y2="730.63" stroke-width="1.45"/>
<line x1="1216.72" y1="725.93" x2="1216.72" y2="735.33" stroke-width="1.7"/>
<line x1="1246.26" y1="725.93" x2="1246.26" y2="735.33" stroke-width="1.7"/>
<circle cx="1232.23" cy="730.63" r="4.9" fill="#fff" stroke="#000" stroke-width="1.6"/>
<line x1="1244.4" y1="725.03" x2="1244.4" y2="758.72" stroke-width="1.7"/>
<line x1="1239.7" y1="725.03" x2="1249.1" y2="725.03" stroke-width="1.45"/>
<line x1="1239.7" y1="758.72" x2="1249.1" y2="758.72" stroke-width="1.45"/>
<line x1="1228.88" y1="737.92" x2="1258.43" y2="737.92" stroke-width="1.45"/>
<line x1="1228.88" y1="733.22" x2="1228.88" y2="742.62" stroke-width="1.7"/>
<line x1="1258.43" y1="733.22" x2="1258.43" y2="742.62" stroke-width="1.7"/>
<rect x="1239.5" y="733.02" width="9.8" height="9.8" fill="#000" stroke="none"/>
<line x1="1342.64" y1="609.76" x2="1342.64" y2="639.55" stroke-width="1.7"/>
<line x1="1337.94" y1="609.76" x2="1347.34" y2="609.76" stroke-width="1.45"/>
<line x1="1337.94" y1="639.55" x2="1347.34" y2="639.55" stroke-width="1.45"/>
<line x1="1327.13" y1="621.37" x2="1356.68" y2="621.37" stroke-width="1.45"/>
<line x1="1327.13" y1="616.67" x2="1327.13" y2="626.07" stroke-width="1.7"/>
<line x1="1356.68" y1="616.67" x2="1356.68" y2="626.07" stroke-width="1.7"/>
<circle cx="1342.64" cy="621.37" r="4.9" fill="#fff" stroke="#000" stroke-width="1.6"/>
<line x1="1346.45" y1="625.07" x2="1346.45" y2="654.86" stroke-width="1.7"/>
<line x1="1341.75" y1="625.07" x2="1351.15" y2="625.07" stroke-width="1.45"/>
<line x1="1341.75" y1="654.86" x2="1351.15" y2="654.86" stroke-width="1.45"/>
<line x1="1330.93" y1="637.1" x2="1360.48" y2="637.1" stroke-width="1.45"/>
<line x1="1330.93" y1="632.4" x2="1330.93" y2="641.8" stroke-width="1.7"/>
<line x1="1360.48" y1="632.4" x2="1360.48" y2="641.8" stroke-width="1.7"/>
<rect x="1341.55" y="632.2" width="9.8" height="9.8" fill="#000" stroke="none"/>
</g>
<g fill="#000" stroke="none">
<text class="se" transform="translate(75.6 460.8) scale(0.955 1)" font-size="28.8" text-anchor="end">0.0</text>
<text class="se" transform="translate(75.6 398.37) scale(0.955 1)" font-size="28.8" text-anchor="end">0.5</text>
<text class="se" transform="translate(75.6 335.94) scale(0.955 1)" font-size="28.8" text-anchor="end">1.0</text>
<text class="se" transform="translate(75.6 273.51) scale(0.955 1)" font-size="28.8" text-anchor="end">1.5</text>
<text class="se" transform="translate(75.6 211.09) scale(0.955 1)" font-size="28.8" text-anchor="end">2.0</text>
<text class="se" transform="translate(75.6 148.66) scale(0.955 1)" font-size="28.8" text-anchor="end">2.5</text>
<text class="se" transform="translate(75.6 86.23) scale(0.955 1)" font-size="28.8" text-anchor="end">3.0</text>
<text class="se" transform="translate(75.6 23.8) scale(0.955 1)" font-size="28.8" text-anchor="end">3.5</text>
<text class="se" transform="translate(74.6 1052.2) scale(0.955 1)" font-size="28.8" text-anchor="end">0.0</text>
<text class="se" transform="translate(74.6 989.66) scale(0.955 1)" font-size="28.8" text-anchor="end">0.5</text>
<text class="se" transform="translate(74.6 927.13) scale(0.955 1)" font-size="28.8" text-anchor="end">1.0</text>
<text class="se" transform="translate(74.6 864.59) scale(0.955 1)" font-size="28.8" text-anchor="end">1.5</text>
<text class="se" transform="translate(74.6 802.06) scale(0.955 1)" font-size="28.8" text-anchor="end">2.0</text>
<text class="se" transform="translate(74.6 739.52) scale(0.955 1)" font-size="28.8" text-anchor="end">2.5</text>
<text class="se" transform="translate(74.6 676.99) scale(0.955 1)" font-size="28.8" text-anchor="end">3.0</text>
<text class="se" transform="translate(74.6 614.45) scale(0.955 1)" font-size="28.8" text-anchor="end">3.5</text>
<text class="se" transform="translate(771.4 462.2) scale(0.955 1)" font-size="28.8">10<tspan font-size="16.8" dy="-15.4" dx="0.3">2</tspan></text>
<text class="se" transform="translate(771.4 389.65) scale(0.955 1)" font-size="28.8">10<tspan font-size="16.8" dy="-15.4" dx="0.3">3</tspan></text>
<text class="se" transform="translate(771.4 317.1) scale(0.955 1)" font-size="28.8">10<tspan font-size="16.8" dy="-15.4" dx="0.3">4</tspan></text>
<text class="se" transform="translate(771.4 244.55) scale(0.955 1)" font-size="28.8">10<tspan font-size="16.8" dy="-15.4" dx="0.3">5</tspan></text>
<text class="se" transform="translate(771.4 172) scale(0.955 1)" font-size="28.8">10<tspan font-size="16.8" dy="-15.4" dx="0.3">6</tspan></text>
<text class="se" transform="translate(771.4 99.45) scale(0.955 1)" font-size="28.8">10<tspan font-size="16.8" dy="-15.4" dx="0.3">7</tspan></text>
<text class="se" transform="translate(771.4 26.9) scale(0.955 1)" font-size="28.8">10<tspan font-size="16.8" dy="-15.4" dx="0.3">8</tspan></text>
<text class="se" transform="translate(770.5 1057) scale(0.955 1)" font-size="28.8">10<tspan font-size="16.8" dy="-15.4" dx="0.3">2</tspan></text>
<text class="se" transform="translate(770.5 976.2) scale(0.955 1)" font-size="28.8">10<tspan font-size="16.8" dy="-15.4" dx="0.3">3</tspan></text>
<text class="se" transform="translate(770.5 895.4) scale(0.955 1)" font-size="28.8">10<tspan font-size="16.8" dy="-15.4" dx="0.3">4</tspan></text>
<text class="se" transform="translate(770.5 814.6) scale(0.955 1)" font-size="28.8">10<tspan font-size="16.8" dy="-15.4" dx="0.3">5</tspan></text>
<text class="se" transform="translate(770.5 733.8) scale(0.955 1)" font-size="28.8">10<tspan font-size="16.8" dy="-15.4" dx="0.3">6</tspan></text>
<text class="se" transform="translate(770.5 653) scale(0.955 1)" font-size="28.8">10<tspan font-size="16.8" dy="-15.4" dx="0.3">7</tspan></text>
<text class="se" transform="translate(89.8 489) scale(0.955 1)" font-size="28.8" text-anchor="middle">0.01</text>
<text class="se" transform="translate(821.8 487.2) scale(0.955 1)" font-size="28.8" text-anchor="middle">0.01</text>
<text class="se" transform="translate(303.4 489) scale(0.955 1)" font-size="28.8" text-anchor="middle">0.1</text>
<text class="se" transform="translate(1035.7 487.2) scale(0.955 1)" font-size="28.8" text-anchor="middle">0.1</text>
<text class="se" transform="translate(517 489) scale(0.955 1)" font-size="28.8" text-anchor="middle">1</text>
<text class="se" transform="translate(1249.6 487.2) scale(0.955 1)" font-size="28.8" text-anchor="middle">1</text>
<text class="se" transform="translate(89.95 1080.3) scale(0.955 1)" font-size="28.8" text-anchor="middle">10</text>
<text class="se" transform="translate(822.05 1082.4) scale(0.955 1)" font-size="28.8" text-anchor="middle">10</text>
<text class="se" transform="translate(414.55 1080.3) scale(0.955 1)" font-size="28.8" text-anchor="middle">100</text>
<text class="se" transform="translate(1161.05 1082.4) scale(0.955 1)" font-size="28.8" text-anchor="middle">100</text>
<text class="se" x="229.8" y="532" font-size="28.9">Laser intensity (10<tspan font-size="17.2" dy="-15.6" dx="0.6">18</tspan><tspan dy="15.6"> W/cm</tspan><tspan font-size="17.2" dy="-15.6" dx="0.6">2</tspan><tspan dy="15.6">)</tspan></text>
<text class="se" x="961.8" y="529" font-size="28.9">Laser intensity (10<tspan font-size="17.2" dy="-15.6" dx="0.6">18</tspan><tspan dy="15.6"> W/cm</tspan><tspan font-size="17.2" dy="-15.6" dx="0.6">2</tspan><tspan dy="15.6">)</tspan></text>
<text class="se" x="293.8" y="1114.8" font-size="29.1">Laser energy (mJ)</text>
<text class="se" x="1035.8" y="1120.3" font-size="29.1">Laser energy (mJ)</text>
<text class="se bd" font-weight="bold" font-size="31.4" text-anchor="middle" transform="translate(23.7 233.3) rotate(-90) scale(0.942 1)">Maximum proton energy (MeV)</text>
<text class="se bd" font-weight="bold" font-size="31.4" text-anchor="middle" transform="translate(753.5 253) rotate(-90) scale(0.942 1)">Proton flux</text>
<text class="se bd" font-weight="bold" font-size="31.4" text-anchor="middle" transform="translate(21 824.5) rotate(-90) scale(0.942 1)">Maximum proton energy (MeV)</text>
<text class="se bd" font-weight="bold" font-size="31.4" text-anchor="middle" transform="translate(752.5 843) rotate(-90) scale(0.942 1)">Proton flux</text>
<text class="sa" x="694.8" y="35.5" font-size="32.5" text-anchor="end" font-weight="bold">a)</text>
<text class="sa" x="1398" y="35.3" font-size="32.5" text-anchor="end" font-weight="bold">b)</text>
<text class="sa" x="674" y="627.8" font-size="32.5" text-anchor="end" font-weight="bold">c)</text>
<text class="sa" x="1397.6" y="623.5" font-size="32.5" text-anchor="end" font-weight="bold">d)</text>
</g>
</svg>
</body>
</html>
